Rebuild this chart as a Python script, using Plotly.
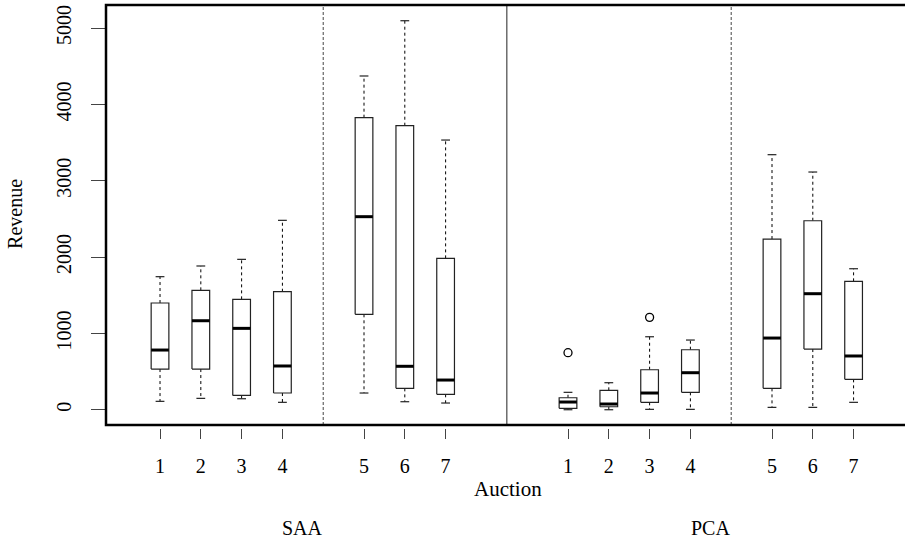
import plotly.graph_objects as go

# ---------------- data ----------------
auctions = ["1", "2", "3", "4", "5", "6", "7"]
groups = ["SAA", "PCA"]

saa_lower = [110, 149, 144, 97, 219, 105, 88]
saa_q1 = [533, 533, 188, 219, 1250, 280, 202]
saa_median = [782, 1166, 1066, 573, 2529, 569, 389]
saa_q3 = [1398, 1564, 1446, 1546, 3826, 3721, 1983]
saa_upper = [1743, 1883, 1970, 2481, 4372, 5096, 3533]

pca_lower = [0, 0, 5, 5, 31, 31, 97]
pca_q1 = [18, 39, 97, 228, 280, 795, 398]
pca_median = [101, 75, 219, 485, 939, 1520, 704]
pca_q3 = [157, 254, 524, 786, 2236, 2476, 1682]
pca_upper = [228, 354, 956, 913, 3341, 3114, 1847]

pca_outlier_auction = ["1", "3"]
pca_outlier_value = [747, 1210]

y_ticks = [0, 1000, 2000, 3000, 4000, 5000]

# slot positions on the x scale (auctions 5-7 after a gap, PCA after SAA)
saa_pos = [1, 2, 3, 4, 6, 7, 8]
pca_pos = [11, 12, 13, 14, 16, 17, 18]

HALF = 0.217   # half box width (slot units)
CAP = 0.108    # half staple width
FONT = "Liberation Serif, Times New Roman, serif"

fig = go.Figure()

def add_group(pos, lo, q1, med, q3, hi):
    bx, by, mx, my, wx, wy, cx, cy = [], [], [], [], [], [], [], []
    for p, a, b, m, c, d in zip(pos, lo, q1, med, q3, hi):
        bx += [p - HALF, p + HALF, p + HALF, p - HALF, p - HALF, None]
        by += [b, b, c, c, b, None]
        mx += [p - HALF, p + HALF, None]
        my += [m, m, None]
        wx += [p, p, None, p, p, None]
        wy += [c, d, None, b, a, None]
        cx += [p - CAP, p + CAP, None, p - CAP, p + CAP, None]
        cy += [d, d, None, a, a, None]
    fig.add_trace(go.Scatter(x=wx, y=wy, mode="lines", hoverinfo="skip",
                             line=dict(color="black", width=1, dash="3px,3px")))
    fig.add_trace(go.Scatter(x=cx, y=cy, mode="lines", hoverinfo="skip",
                             line=dict(color="#222", width=1.2)))
    fig.add_trace(go.Scatter(x=bx, y=by, mode="lines", fill="toself",
                             fillcolor="white", hoverinfo="skip",
                             line=dict(color="#222", width=1.2)))
    fig.add_trace(go.Scatter(x=mx, y=my, mode="lines", hoverinfo="skip",
                             line=dict(color="black", width=3)))

add_group(saa_pos, saa_lower, saa_q1, saa_median, saa_q3, saa_upper)
add_group(pca_pos, pca_lower, pca_q1, pca_median, pca_q3, pca_upper)

out_x = [pca_pos[auctions.index(a)] for a in pca_outlier_auction]
fig.add_trace(go.Scatter(x=out_x, y=pca_outlier_value, mode="markers",
                         hoverinfo="skip",
                         marker=dict(symbol="circle-open", size=8,
                                     color="black", line=dict(width=1.3))))

# separators
dot_seps = [(saa_pos[3] + saa_pos[4]) / 2, (pca_pos[3] + pca_pos[4]) / 2]
solid_sep = (saa_pos[-1] + pca_pos[0]) / 2
shapes = []
for s in dot_seps:
    shapes.append(dict(type="line", xref="x", yref="y domain", x0=s, x1=s,
                       y0=0, y1=1, line=dict(color="#444", width=1, dash="3px,2px")))
shapes.append(dict(type="line", xref="x", yref="y domain", x0=solid_sep,
                   x1=solid_sep, y0=0, y1=1, line=dict(color="#555", width=1.3)))
shapes.append(dict(type="rect", xref="paper", yref="y domain", x0=0, x1=1.01,
                   y0=0, y1=1, line=dict(color="black", width=2.5)))

annotations = [
    dict(text="Auction", xref="paper", yref="paper", x=0.503, y=-0.144,
         showarrow=False, xanchor="center", yanchor="middle",
         font=dict(family=FONT, size=21, color="black")),
    dict(text="Revenue", xref="paper", yref="paper", x=-0.114, y=0.506,
         textangle=-90, showarrow=False, xanchor="center", yanchor="middle",
         font=dict(family=FONT, size=20, color="black")),
]
for g, pos in zip(groups, [saa_pos, pca_pos]):
    annotations.append(dict(text=g, xref="x", yref="paper",
                            x=(pos[0] + pos[-1]) / 2, y=-0.236,
                            showarrow=False, xanchor="center", yanchor="middle",
                            font=dict(family=FONT, size=20, color="black")))

fig.update_layout(
    width=905, height=541,
    margin=dict(l=106, r=0, t=5, b=113),
    paper_bgcolor="white", plot_bgcolor="white",
    showlegend=False,
    font=dict(family=FONT, size=20, color="black"),
    shapes=shapes, annotations=annotations,
    xaxis=dict(range=[-0.324, 19.26], anchor="free", position=0,
               tickvals=saa_pos + pca_pos, ticktext=auctions + auctions,
               ticks="outside", ticklen=10, tickwidth=1, tickcolor="#444",
               showline=False, showgrid=False, zeroline=False,
               ticklabelstandoff=10,
               tickfont=dict(family=FONT, size=20, color="black")),
    yaxis=dict(range=[-200, 5302], domain=[3 / 423, 1],
               tickvals=y_ticks, ticktext=[str(v) for v in y_ticks],
               ticks="outside", ticklen=14, tickwidth=1, tickcolor="#444",
               tickangle=-90, showline=False, showgrid=False, zeroline=False,
               ticklabelstandoff=12,
               tickfont=dict(family=FONT, size=20, color="black")),
)

fig.write_html("out.html")
